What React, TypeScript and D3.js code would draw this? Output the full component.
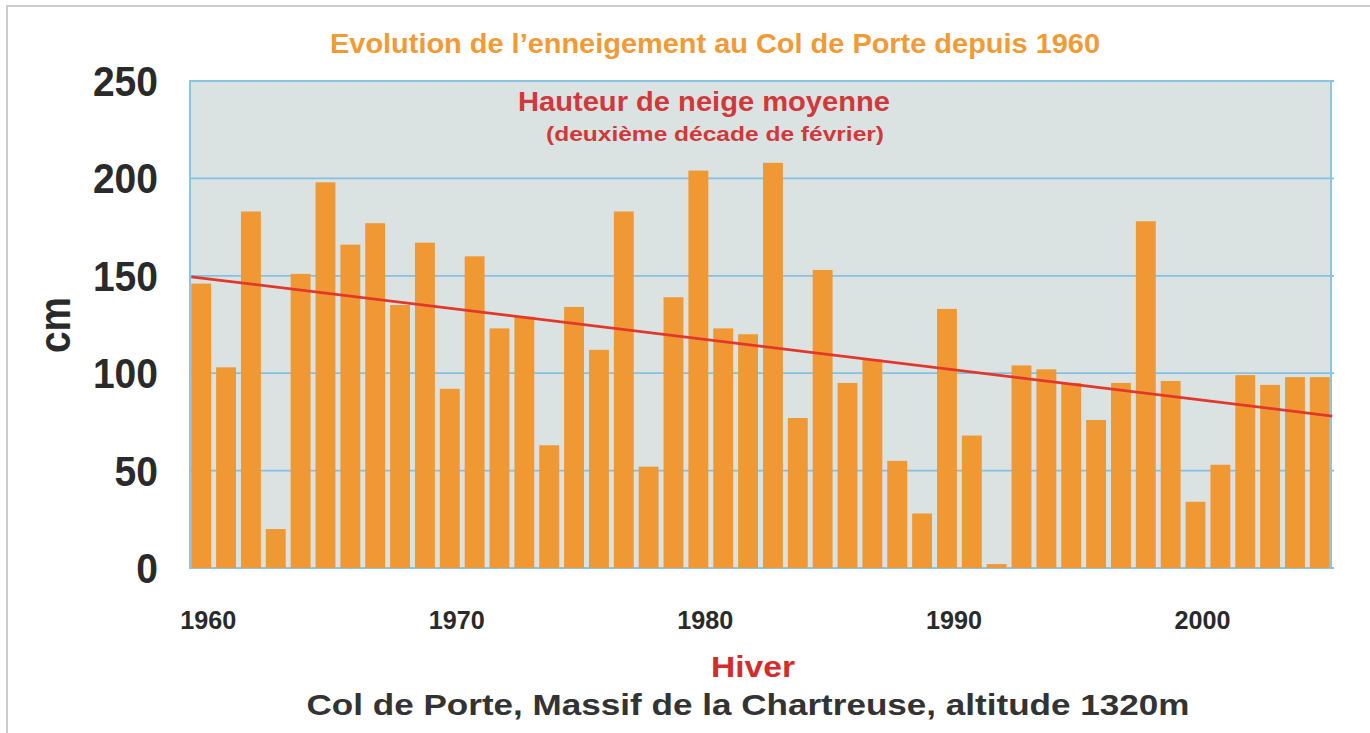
import React from "react";
import * as d3 from "d3";

const years: number[] = [
  1960, 1961, 1962, 1963, 1964, 1965, 1966, 1967, 1968, 1969,
  1970, 1971, 1972, 1973, 1974, 1975, 1976, 1977, 1978, 1979,
  1980, 1981, 1982, 1983, 1984, 1985, 1986, 1987, 1988, 1989,
  1990, 1991, 1992, 1993, 1994, 1995, 1996, 1997, 1998, 1999,
  2000, 2001, 2002, 2003, 2004, 2005,
];
const snowDepth: number[] = [
  146, 103, 183, 20, 151, 198, 166, 177, 135, 167,
  92, 160, 123, 129, 63, 134, 112, 183, 52, 139,
  204, 123, 120, 208, 77, 153, 95, 107, 55, 28,
  133, 68, 2, 104, 102, 95, 76, 95, 178, 96,
  34, 53, 99, 94, 98, 98,
];
const trend: [number, number][] = [
  [1959.6, 149.5],
  [2005.5, 78],
];
const yTicks: number[] = [0, 50, 100, 150, 200, 250];
const xTickYears: number[] = [1960, 1970, 1980, 1990, 2000];

const title = "Evolution de l\u2019enneigement au Col de Porte depuis 1960";
const seriesTitle = "Hauteur de neige moyenne";
const seriesSub = "(deuxi\u00e8me d\u00e9cade de f\u00e9vrier)";
const xTitle = "Hiver";
const footer = "Col de Porte, Massif de la Chartreuse, altitude 1320m";
const yTitle = "cm";

const FONT = "'Liberation Sans', Arial, Helvetica, sans-serif";

export default function App() {
  const W = 1370, H = 733;
  const left = 190, right = 1331, top = 81, bottom = 568;

  const x = d3.scaleBand<number>().domain(years).range([left, right]).paddingInner(0.2).paddingOuter(0.05);
  const bw = x.bandwidth();
  const xc = d3
    .scaleLinear()
    .domain([years[0], years[years.length - 1]])
    .range([(x(years[0]) as number) + bw / 2, (x(years[years.length - 1]) as number) + bw / 2]);
  const y = d3.scaleLinear().domain([0, 250]).range([bottom, top]);

  const line = d3
    .line<[number, number]>()
    .x((d) => xc(d[0]))
    .y((d) => y(d[1]));

  return (
    <svg
      width={W}
      height={H}
      style={{ position: "absolute", left: 0, top: 0, background: "#ffffff" }}
      fontFamily={FONT}
    >
      {/* outer frame */}
      <path d={`M7,${H} L7,6 L${W},6`} fill="none" stroke="#cdcdcd" strokeWidth={2} />

      {/* title */}
      <text x={715} y={53} textAnchor="middle" fontSize={28} fontWeight="bold" fill="#f29a36" textLength={770} lengthAdjust="spacingAndGlyphs">
        {title}
      </text>

      {/* plot background */}
      <rect x={left} y={top} width={right - left} height={bottom - top} fill="#dbe3e2" />

      {/* gridlines */}
      {yTicks.map((t) => (
        <line key={t} x1={left} x2={right + 3} y1={y(t)} y2={y(t)} stroke="#86c0e0" strokeWidth={1.8} />
      ))}

      {/* plot border */}
      <rect x={left} y={top} width={right - left} height={bottom - top} fill="none" stroke="#8cc4e4" strokeWidth={2} />

      {/* bars */}
      {years.map((yr, i) => (
        <rect
          key={yr}
          x={x(yr)}
          y={y(snowDepth[i])}
          width={bw}
          height={y(0) - y(snowDepth[i])}
          fill="#ef9834"
        />
      ))}

      {/* trend */}
      <path d={line(trend) || ""} fill="none" stroke="#e2372b" strokeWidth={2.8} />

      {/* series label */}
      <text x={704} y={111} textAnchor="middle" fontSize={27} fontWeight="bold" fill="#d0383a" textLength={372} lengthAdjust="spacingAndGlyphs">
        {seriesTitle}
      </text>
      <text x={715} y={141} textAnchor="middle" fontSize={21} fontWeight="bold" fill="#d0383a" textLength={338} lengthAdjust="spacingAndGlyphs">
        {seriesSub}
      </text>

      {/* y tick labels */}
      {yTicks.map((t) => {
        const s = String(t);
        return (
          <text
            key={t}
            x={158}
            y={y(t) + 15}
            textAnchor="end"
            fontSize={43}
            fontWeight="bold"
            fill="#2a2a2a"
            textLength={s.length * 21.7}
            lengthAdjust="spacingAndGlyphs"
          >
            {s}
          </text>
        );
      })}

      {/* y title */}
      <text
        transform={`translate(70,325) rotate(-90)`}
        textAnchor="middle"
        fontSize={44}
        fontWeight="bold"
        fill="#2a2a2a"
        textLength={56}
        lengthAdjust="spacingAndGlyphs"
      >
        {yTitle}
      </text>

      {/* x tick labels */}
      {xTickYears.map((yr) => (
        <text key={yr} x={xc(yr) + 7} y={629} textAnchor="middle" fontSize={25} fontWeight="bold" fill="#2a2a2a" textLength={56} lengthAdjust="spacingAndGlyphs">
          {yr}
        </text>
      ))}

      {/* x title */}
      <text x={753} y={677} textAnchor="middle" fontSize={30} fontWeight="bold" fill="#d42b2b" textLength={84} lengthAdjust="spacingAndGlyphs">
        {xTitle}
      </text>

      {/* footer */}
      <text x={748} y={715} textAnchor="middle" fontSize={30} fontWeight="bold" fill="#333333" textLength={883} lengthAdjust="spacingAndGlyphs">
        {footer}
      </text>
    </svg>
  );
}
